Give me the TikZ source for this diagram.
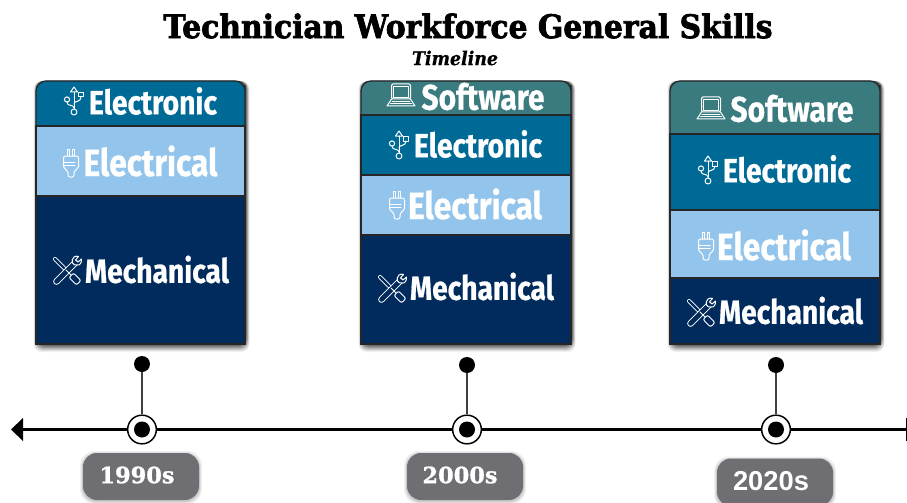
\documentclass[tikz,border=0pt]{standalone}
\usepackage{fontspec}
\usepackage{graphicx}
\setmainfont{DejaVu Serif}
\newfontfamily\labfont[FakeStretch=0.84,FakeBold=0.6]{Fira Sans}
\newfontfamily\slabfont[FakeStretch=0.92,FakeBold=2.2]{DejaVu Serif}
\newfontfamily\subfont[FakeStretch=0.92,FakeBold=0.6]{DejaVu Serif}
\newfontfamily\pillslab[FakeBold=1.2]{DejaVu Serif}
\newfontfamily\pillsans{Liberation Sans}
\definecolor{cSoft}{HTML}{3A7B80}
\definecolor{cTron}{HTML}{006A96}
\definecolor{cCal}{HTML}{93C5EC}
\definecolor{cMech}{HTML}{002B5C}
\definecolor{cPill}{HTML}{6E6E73}
\newdimen\pxu \pxu=0.75pt
\newcommand{\lab}[2]{\resizebox{#1\pxu}{!}{\labfont\bfseries #2}}
\newcommand{\shadowbox}[4]{%
  \foreach \e/\o in {7/.05,6/.07,5/.09,4/.11,3/.13,2/.15,1/.17,0/.2}{
    \fill[black,opacity=\o,rounded corners=6] ({#1-\e*0.5+1},{#3+0}) rectangle ({#2+\e*0.5+1},{#4+1+\e});
  }}
\newcommand{\segrect}[5]{\draw[segline,fill=#5] (#1,#2) rectangle (#3,#4);}
\newcommand{\segtop}[5]{\draw[segline,fill=#5,rounded corners=7.5pt] (#1,#4) [sharp corners] -- (#1,{#2+14}) [rounded corners=7.5pt] -- (#1,#2) -- (#3,#2) -- (#3,{#2+14}) [sharp corners] -- (#3,#4) -- cycle;}
\tikzset{
  segline/.style={draw=black!85,line width=.9pt},
  lbl/.style={text=white,inner sep=0pt,anchor=center},
  axisdot/.style={circle,fill=black,inner sep=0pt,minimum size=12pt},
  ringnode/.style={circle,draw=black,line width=1.1pt,fill=white,inner sep=0pt,minimum size=21.5pt},
  stem/.style={draw=black!75,line width=.9pt},
  pill/.style={fill=cPill,rounded corners=10.5pt},
  icon/.style={draw=white,line width=.75pt,line cap=round,line join=round},
  usbicon/.pic={
    \draw[icon] (0,11) -- (0,-9);
    \draw[icon] (0,-14) -- (-3.5,-9) -- (3.5,-9) -- cycle;
    \draw[icon,fill=cTron] (0,11) circle[radius=3];
    \draw[icon] (0,7) .. controls (0,3) and (-7,6) .. (-7,1);
    \draw[icon] (-7,-1.5) circle[radius=2.6];
    \draw[icon] (0,3) .. controls (0,-1) and (7,2) .. (7,-4);
    \draw[icon] (4.5,-8.5) rectangle (9.5,-4);
  },
  plugicon/.pic={
    \draw[icon] (-3.8,-7) -- (-3.8,-14) -- (-1.2,-14) -- (-1.2,-7);
    \draw[icon] (1.2,-7) -- (1.2,-14) -- (3.8,-14) -- (3.8,-7);
    \draw[icon,rounded corners=1.5] (-3,14) -- (-3,7.5) -- (-7.5,5.5) -- (-7.5,-7) -- (7.5,-7) -- (7.5,5.5) -- (3,7.5) -- (3,14) -- cycle;
    \draw[icon] (-7.5,-1) -- (4,-1) (-7.5,2) -- (4,2);
  },
  toolsicon/.pic={
    % screwdriver
    \draw[line width=3pt,draw=white,line cap=round] (-12,-12) -- (-3,-3);
    \draw[line width=1.7pt,draw=cMech,line cap=round] (-12,-12) -- (-3,-3);
    % wrench
    \draw[line width=5pt,draw=white,line cap=round] (-10.5,10.5) -- (8,-8);
    \draw[line width=3.5pt,draw=cMech,line cap=round] (-10.5,10.5) -- (8,-8);
    \draw[icon,fill=cMech] (7,-14) .. controls (3,-10) and (6,-5) .. (10,-6) .. controls (13,-5) and (15,-9) .. (14.5,-12) -- (11,-9) -- (8.5,-11) -- (11.5,-14.5) .. controls (10,-15) and (8,-15) .. (7,-14);
    % screwdriver handle
    \draw[icon,fill=cMech,rounded corners=1.5] (2,6.5) -- (6.5,2) -- (14,9.5) -- (9.5,14) -- cycle;
    \draw[icon] (-1,-1) -- (4,4);
  },
  laptopicon/.pic={
    \draw[icon,rounded corners=1] (-9.5,-12) rectangle (9.5,3);
    \draw[icon,line width=.55pt] (-7.5,-10) rectangle (7.5,1);
    \draw[icon] (-9.5,3) -- (-14,10) -- (14,10) -- (9.5,3);
    \draw[icon,line width=.55pt] (-9,5.2) -- (9,5.2) (-10.5,7.5) -- (10.5,7.5);
  },
}
\begin{document}
\begin{tikzpicture}[x=.75pt,y=-.75pt]
\useasboundingbox (0,0) rectangle (907,503);
\begin{scope}
\clip (0,0) rectangle (907,503);
\fill[white] (0,0) rectangle (907,503);

\node[inner sep=0pt] (title) at (468,26) {\resizebox{609\pxu}{!}{\slabfont\bfseries Technician Workforce General Skills}};
\node[inner sep=0pt] (subtitle) at (455,58) {\resizebox{86\pxu}{!}{\subfont\bfseries\itshape Timeline}};

% column 1
\shadowbox{36}{245}{81}{344}
\segtop{36}{81}{245}{126}{cTron}
\segrect{36}{126}{245}{196}{cCal}
\segrect{36}{196}{245}{344}{cMech}
\node[lbl] (a1) at (153,101) {\lab{128}{Electronic}};
\node[lbl] (a2) at (150.5,161) {\lab{134}{Electrical}};
\node[lbl] (a3) at (157,269.5) {\lab{144}{Mechanical}};
\pic at (74,101) {usbicon};
\pic at (71,163) {plugicon};
\pic at (67,271) {toolsicon};

% column 2
\shadowbox{361}{571}{81}{344}
\segtop{361}{81}{571}{115}{cSoft}
\segrect{361}{115}{571}{175}{cTron}
\segrect{361}{175}{571}{235}{cCal}
\segrect{361}{235}{571}{344}{cMech}
\node[lbl] (b0) at (483,96.5) {\lab{123}{Software}};
\node[lbl] (b1) at (478,144) {\lab{128}{Electronic}};
\node[lbl] (b2) at (475,204) {\lab{134}{Electrical}};
\node[lbl] (b3) at (482,286.5) {\lab{144}{Mechanical}};
\pic at (401,96) {laptopicon};
\pic at (399,145) {usbicon};
\pic at (397,205) {plugicon};
\pic at (392,289) {toolsicon};

% column 3
\shadowbox{670}{880}{81}{344}
\segtop{670}{81}{880}{134}{cSoft}
\segrect{670}{134}{880}{210}{cTron}
\segrect{670}{210}{880}{278}{cCal}
\segrect{670}{278}{880}{344}{cMech}
\node[lbl] (c0) at (792,108.5) {\lab{123}{Software}};
\node[lbl] (c1) at (787,169) {\lab{128}{Electronic}};
\node[lbl] (c2) at (784,245) {\lab{134}{Electrical}};
\node[lbl] (c3) at (791,310.5) {\lab{144}{Mechanical}};
\pic at (711,109) {laptopicon};
\pic at (708,170) {usbicon};
\pic at (706,246) {plugicon};
\pic at (701,313) {toolsicon};

% axis
\coordinate (axL) at (20,429.5);
\coordinate (axR) at (907,429.5);
\draw[line width=2.9pt] (axL) -- (axR);
\fill (11,429.5) -- (23,418) -- (23,441) -- cycle;
\fill (905.5,418) rectangle (908,441);

\foreach \n/\cx/\cy in {p/142/364,q/467/365,r/776/365}{
  \node[axisdot] (\n top) at (\cx,\cy) {};
  \node[ringnode] (\n ring) at (\cx,429.5) {};
  \node[axisdot] (\n dot) at (\cx,429.5) {};
  \draw[stem] (\n top) -- (\n ring);
}

% year pills
\foreach \xa/\ya/\xb/\yb in {83/453/199/500,407/453/523/500,717/458.5/833/506}{
  \foreach \e/\o in {3/.05,2/.07,1/.09}{
    \fill[black,opacity=\o,rounded corners=11pt] ({\xa-\e},{\ya+1-\e}) rectangle ({\xb+\e},{\yb+1+\e});
  }
  \fill[pill] (\xa,\ya) rectangle (\xb,\yb);
}
\node[text=white,inner sep=0pt] (y1) at (137,475) {\resizebox{75\pxu}{!}{\pillslab\bfseries 1990s}};
\node[text=white,inner sep=0pt] (y2) at (460,475) {\resizebox{75\pxu}{!}{\pillslab\bfseries 2000s}};
\node[text=white,inner sep=0pt] (y3) at (771,481) {\resizebox{76\pxu}{!}{\pillsans\bfseries 2020s}};
\end{scope}
\end{tikzpicture}
\end{document}
